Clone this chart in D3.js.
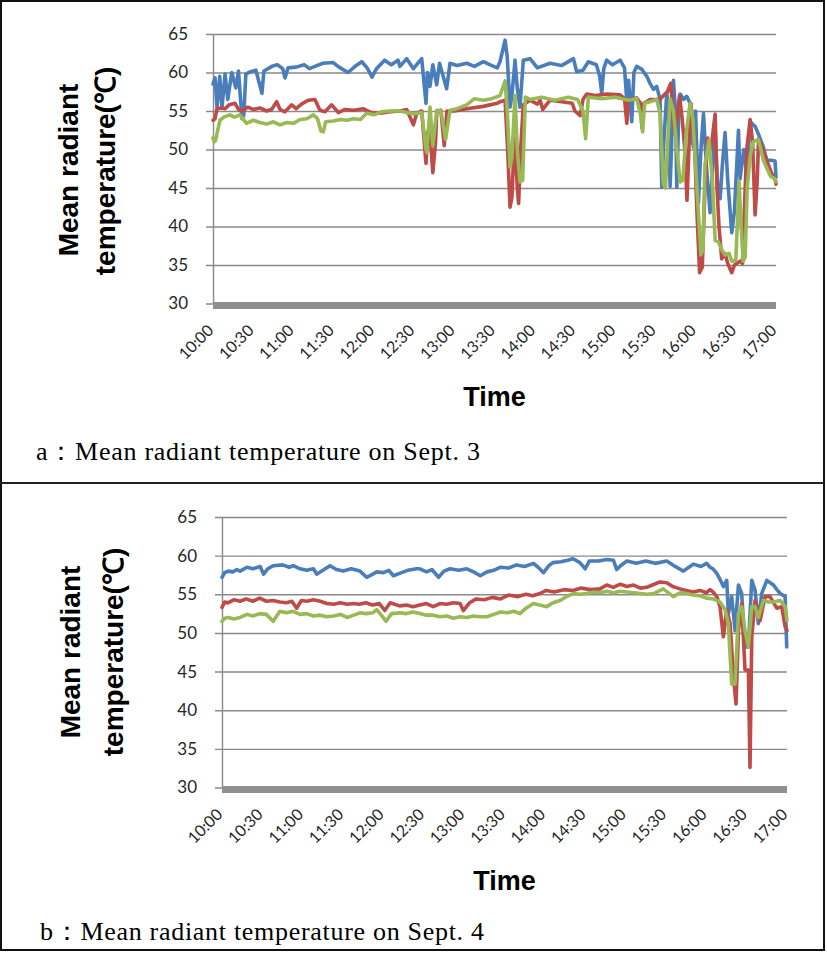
<!DOCTYPE html>
<html><head><meta charset="utf-8">
<script src="https://cdn.jsdelivr.net/npm/d3@7"></script>
<style>body{margin:0;background:#fff}svg{display:block}</style>
</head><body>
<svg id="c" width="827" height="953"></svg>
<script>
// ---------- data (minutes after 10:00, °C) ----------
const timeLabels = ["10:00","10:30","11:00","11:30","12:00","12:30","13:00","13:30","14:00","14:30","15:00","15:30","16:00","16:30","17:00"];
const timeTickMinutes = [0,30,60,90,120,150,180,210,240,270,300,330,360,390,420];
const yTicks = [30,35,40,45,50,55,60,65];
const seriesNames = ["blue","red","green"];
const seriesColors = ["#4A7EBB","#BE4B48","#98B954"];

const sep3Blue = [[0,58.5],[1.5,59.3],[3,55.5],[5,59.5],[6.7,55.4],[9,59.8],[11,56.5],[14,60],[17,58],[19,60.2],[21.6,54],[23,54.5],[24.5,59.8],[28,60.1],[32,60.3],[36.5,57.3],[38,60.2],[44,60.8],[48,61],[52,60.5],[53.7,59.3],[56,60.6],[62,60.7],[68,61],[72,60.5],[76,60.8],[82,61.2],[89.5,61.3],[94,60.7],[100.7,60],[106,60.8],[111,61.4],[115,60.6],[118.6,59.4],[122,60.5],[128,61.6],[133,61],[138,61.6],[139.5,60.8],[144.5,61.8],[149.5,60.5],[155.7,61.8],[158.9,56],[160,60],[161.9,58.2],[164,61],[166.9,58.4],[169,61.2],[174.3,57.9],[176.8,61.2],[182,60.9],[189.3,61.2],[195,60.8],[201.7,61.4],[208,60.9],[212,60.6],[214.1,61.4],[217.9,64.2],[219.5,62],[221.6,55.5],[223,57],[225.3,61.6],[227,58],[229,55.5],[231.5,61.6],[236.5,61.8],[242,60.6],[251.4,61.2],[260,60.9],[268.9,61.8],[271.3,60.1],[276,60.3],[280,61.4],[286,61],[288.5,59.5],[290,57.3],[291.5,60.5],[293.7,61.6],[298,61],[303.7,61.6],[307,60.6],[308.7,56.2],[310,59],[312.4,53.6],[314,60],[316.1,60.8],[320,60.4],[323.6,59.5],[326,58.6],[328.6,57.8],[331,58.2],[333.5,56.5],[334.8,45.1],[336,50],[338.5,57.3],[340,55],[341,45.2],[342,50],[343.5,59],[345,55],[346,45.1],[347.5,55],[348.5,57.2],[351,56.5],[353.4,56.9],[355.9,56],[357,52],[358.4,50.3],[360,55],[362.1,43],[364,50],[365.9,54.7],[368,48],[370.8,41.8],[372.5,47],[374.6,52.7],[376.5,45],[378.3,43.6],[380,48],[382,52.2],[384,46],[387,39.2],[389,42],[392,52.5],[393.2,46.2],[396,50],[398.2,47.1],[400.7,53.6],[404.4,53],[406.9,52],[410.6,50.3],[413.1,48.6],[416,48.6],[419.3,48.5],[420,46.4]];
const sep3Red = [[0,53.8],[1.5,54],[3,55.3],[6,55.4],[9,55.3],[12,55.8],[16.4,56],[19,55.2],[22,55],[26,55.5],[30,55.2],[35,55.4],[40,55],[43.7,55.2],[47.5,56.2],[50,55.2],[53.7,54.9],[58.7,55.8],[62,55.3],[66,55.9],[71,56.4],[76,56.5],[79.8,55.1],[83.5,54.9],[88.5,55.8],[93.5,54.8],[98.5,55.2],[105,55.1],[112,55.3],[118,54.8],[125,54.7],[132,54.9],[139.5,55],[144.5,55.2],[149.5,53.2],[152,54.7],[155.7,55],[158.9,48.2],[160,52],[161.5,53],[164,47],[166,51],[167,55],[170,55.1],[172.5,50.5],[174.5,55],[180,55],[189.3,55.3],[201.7,55.6],[212,56],[214.1,56.2],[217.9,56.4],[219.8,50],[221.6,42.5],[223,43.8],[224.5,50],[225.3,51.4],[227,45],[228,43],[229.5,50],[231.5,55.8],[236.5,56.4],[242,55.9],[244,56.4],[246,55.2],[251.4,56.4],[260,56.2],[268,56],[270,55],[274,54.4],[276,56.5],[278.8,57.2],[285,57],[293.7,57.2],[303.7,57.1],[307,56.6],[308.7,53.4],[310,56.5],[316,56.7],[319,56],[320,52.8],[321.5,56],[326,56.5],[333.5,56.5],[336,57],[339,57.5],[341.5,58.6],[343,55],[344.5,52],[346,54],[348,57],[350,54],[352,50],[353.6,43.4],[355,50],[356.5,56],[359,52],[361,42],[363,34],[365,34.7],[367,45],[369,51.5],[371.5,50],[374.6,54.6],[376,45],[377.5,40],[379.5,35.8],[382,36.5],[384,35.2],[387,34],[389,35],[391.5,35.3],[393.5,35.5],[395,35.2],[397,45],[398.2,50],[400.7,53.9],[402.5,51],[404.4,41.5],[406,46],[407,51.4],[410,50],[413.1,48.6],[416.5,47],[419.5,46],[420,45.5]];
const sep3Green = [[0,51.5],[1,51],[2,51.2],[3.5,52.5],[5.2,53.8],[8,54.2],[12.6,54.5],[16,54.2],[20,54.5],[25,53.4],[30,53.8],[35,53.5],[40,53.3],[45,53.6],[50,53.2],[55,53.5],[60,53.4],[65,53.9],[70,54],[74.8,54.5],[78,54],[80.5,52.4],[82.3,52.3],[84,53.6],[89.8,53.7],[95,53.9],[100,53.8],[105,54],[110,53.9],[114.6,54.7],[120,54.5],[126,54.9],[132,55],[139.5,55],[144.5,54.8],[149.5,54.6],[155.7,54.8],[158.9,50],[159.5,49.6],[161.9,55.5],[164,50.5],[166.9,55.1],[170,55],[173.5,51.3],[176.8,55.1],[182,55.3],[189.3,55.8],[195,56.6],[201.7,56.4],[208,56.6],[214.1,57],[217.9,58.9],[219.5,55],[221.6,47.7],[223,49],[225.3,57],[227,50],[229,45.8],[231,46],[233,56.8],[236.5,56.5],[245,56.8],[255,56.4],[265,56.8],[272,56.5],[276,55],[278,51.4],[280,56.8],[290,56.6],[300,56.8],[310,56.4],[316.1,56.6],[319,54.5],[320.5,52.3],[322,56],[326,56.2],[331,56.5],[333.5,54.7],[336,45.5],[337.5,45],[339,50],[341,56.6],[343.5,55],[346,50],[348.5,45.8],[350.5,46],[353,52],[355.9,56],[358,54],[361,45],[364,36.3],[365.5,37],[367,48],[370,51.2],[372.5,46],[374.6,38.2],[377,38],[379.5,37],[382,36.3],[385,36.5],[387,35.5],[390,35.6],[392.5,45.8],[394,40],[395.5,35.5],[397,36],[398.5,45],[400.7,49.1],[403,51],[406.9,51.3],[410.6,48.6],[413.1,47.6],[416,46.5],[419.3,46.2],[420,45.8]];

const sep4Blue = [[0,57.2],[2,57.8],[4.5,58],[8,57.9],[11,58.2],[13.5,58],[18.5,58.5],[23,58.3],[28.4,58.6],[30.9,57.6],[34,58.3],[38.3,58.7],[45,58.8],[50,58.5],[53,58.7],[58,58.3],[63,58.1],[68,58.3],[70.4,57.6],[75,58.1],[80.3,58.7],[85,58.2],[90.2,58],[96,58.3],[102.6,58],[107.5,57.2],[110,57.4],[115,57.9],[120,57.8],[124,58.1],[127.4,57.4],[132,57.7],[138,58.1],[144.7,58.3],[147,58.3],[152,57.9],[156,58.2],[161,57.2],[165,58],[169.5,58.3],[176,58.1],[182,58.3],[187,57.9],[192,57.4],[197,57.9],[202,58.1],[207,58.5],[213,58.4],[219,58.8],[225,58.6],[231.5,59],[235,58.5],[239,57.8],[243,58.7],[246,59.1],[252,59.2],[257,59.4],[261,59.6],[266,59.1],[270,58.3],[273,59.3],[280,59.3],[286,59.5],[291,59.4],[293.4,58.2],[297,58.8],[301,59.3],[308,59],[315,59.3],[322,59],[330.6,59.3],[336,58.7],[343,58],[347,58.5],[350.4,58.9],[356,58.6],[360.3,59],[362.8,58.5],[365,58.3],[367.8,57.7],[370,57],[372.7,56],[375.2,56.8],[376.4,52.5],[378.9,54.7],[381.4,50.3],[383.9,56.2],[386.3,55.1],[388.8,48.2],[391.3,48.2],[393.8,56.8],[396.3,55.5],[398.7,51.2],[401.2,55.1],[405,56.8],[407.5,56.5],[409.9,56.2],[412.5,55.6],[414.9,55.1],[418.6,54.7],[419.8,48.2]];
const sep4Red = [[0,53.3],[2,54],[4.5,53.9],[9,54.3],[13.5,54.1],[18,54.4],[23,54.1],[28,54.5],[33,54.1],[38,54.2],[43,54],[48,53.9],[52,54.1],[55.5,53.2],[59,54.2],[63,54.1],[68,54.3],[73,54.1],[78,53.8],[83,53.7],[88,53.9],[93,53.7],[98,53.8],[102,53.7],[107,53.9],[112,53.6],[117,53.8],[121,52.9],[125,53.9],[132,53.5],[137,53.6],[142,53.4],[147,53.6],[152,53.8],[157,53.4],[162,53.8],[167,53.7],[172,53.9],[177,53.8],[179.4,52.9],[184,53.9],[189,54.4],[195,54.3],[201,54.6],[207,54.4],[213,54.9],[220,54.7],[226,55],[231,54.8],[236.4,55.1],[241,55.5],[247,55.3],[254,55.6],[261,55.5],[267,55.8],[274,55.6],[281,55.7],[286,56.2],[291,55.9],[296,56.3],[301,56],[306,56.2],[311,55.8],[315.7,55.9],[320,56.2],[325.6,56.6],[330.6,56.5],[335,56],[340.5,55.7],[345,55.5],[350,55.3],[355.4,55.5],[360,55.2],[362.8,55.6],[365,55.3],[367.8,54.7],[370.2,53.4],[372.7,49.5],[375.2,53],[377.7,51.2],[380.2,44.3],[382.1,40.8],[383.9,50.3],[386.3,53.8],[388.8,45.2],[391.3,45.2],[392.5,32.6],[393.8,49.5],[396.3,54.2],[400,51.6],[403.7,54.7],[407.4,54.7],[412.4,53.2],[416.1,53.4],[418.6,50.8],[420,50.3]];
const sep4Green = [[0,51.5],[2,51.9],[4.5,52],[9,51.8],[13.5,52],[18.5,52.4],[23,52.2],[28,52.5],[33,52.4],[38,51.5],[43,52.8],[48,52.6],[53,52.8],[58,52.4],[63,52.5],[68,52.2],[73,52.3],[78,52.1],[83,52.2],[88,52.4],[93,52],[98,52.3],[102.6,52.6],[107,52.5],[112,52.6],[115,53],[118,52.4],[122,51.5],[126,52.5],[132,52.6],[137,52.5],[142,52.7],[147,52.5],[152,52.3],[157,52.3],[162,52.1],[167,52.2],[172,51.9],[177,52.1],[182,52],[187,52.2],[192,52.1],[197,52.1],[202,52.4],[207,52.7],[212,52.6],[217,52.8],[221.5,52.5],[226,53.2],[231.5,53.8],[236,53.6],[241.4,53.4],[246,53.9],[251.3,54.2],[256,54.7],[261,55.1],[266,55],[271,55.1],[276,55.3],[281,55.2],[286,55.4],[291,55.2],[296,55.4],[301,55.3],[306,55.2],[311,55.1],[316,55],[321,55.1],[328,55.7],[335.5,54.7],[340.5,55.2],[345.4,55.1],[350,54.9],[355.4,54.8],[360,54.5],[365.3,54.4],[370.2,54],[374,53],[376.4,51.2],[378.9,43.4],[381.4,43.4],[383.9,52.5],[386.3,53.4],[388.8,50.3],[391.3,48.2],[393.8,53.4],[396.3,53.4],[398.7,52],[402.5,54.2],[406,54],[409.9,54],[414.9,54.2],[418.6,53.4],[420,51.6]];

const captions = ["a\uFF1AMean radiant temperature on Sept. 3", "b\uFF1AMean radiant temperature on Sept. 4"];
const yTitleLines = ["Mean radiant", "temperature(\u2103)"];
const xTitle = "Time";

// ---------- layout ----------
const panels = [
  {series:[sep3Blue, sep3Red, sep3Green], caption:captions[0],
   x0:213, x1:776, yTop:34, yBot:303.5, t1:[78,170], t2:[115,171], timeY:406, capX:36, capY:460},
  {series:[sep4Blue, sep4Red, sep4Green], caption:captions[1],
   x0:222, x1:787, yTop:517, yBot:787.5, t1:[80,652], t2:[123,652], timeY:890, capX:40, capY:940}
];

const svg = d3.select("#c");
svg.append("rect").attr("width",827).attr("height",953).attr("fill","#fff");

panels.forEach(p => {
  const x = d3.scaleLinear().domain([0,420]).range([p.x0,p.x1]);
  const y = d3.scaleLinear().domain([30,65]).range([p.yBot,p.yTop]);
  const g = svg.append("g");

  // gridlines (with small outside ticks)
  const grid = g.append("g").attr("transform",`translate(${p.x0-7},0)`)
    .call(d3.axisRight(y).tickValues(yTicks).tickSize(p.x1-p.x0+7).tickFormat(""));
  grid.select(".domain").remove();
  grid.selectAll("line").attr("stroke","#8a8a8a").attr("stroke-width",1.4);

  // y labels
  const ya = g.append("g").attr("transform",`translate(${p.x0},0)`)
    .call(d3.axisLeft(y).tickValues(yTicks).tickSize(0).tickPadding(25));
  ya.select(".domain").attr("stroke","#8a8a8a").attr("stroke-width",1.4);
  ya.selectAll("text").attr("font-family","Lato, 'Open Sans', sans-serif").attr("font-size",17).attr("fill","#262626");

  // dense category tick band at 30
  g.append("rect").attr("x",p.x0).attr("y",y(30)-1.5).attr("width",p.x1-p.x0).attr("height",7)
    .attr("fill","#8f8f8f");

  // x labels
  const xa = g.append("g").attr("transform",`translate(0,${p.yBot})`)
    .call(d3.axisBottom(x).tickValues(timeTickMinutes).tickSize(0).tickFormat((d,i)=>timeLabels[i]));
  xa.select(".domain").remove();
  xa.selectAll("text").attr("font-family","Lato, 'Open Sans', sans-serif").attr("font-size",16).attr("fill","#262626")
    .attr("y",0).attr("dy",0).attr("text-anchor","end").attr("transform","translate(1,28) rotate(-45)");

  // series
  const line = d3.line().x(d=>x(d[0])).y(d=>y(d[1]));
  p.series.forEach((s,i) => {
    g.append("path").datum(s).attr("d",line).attr("fill","none")
      .attr("stroke",seriesColors[i]).attr("stroke-width",3.6)
      .attr("stroke-linejoin","round").attr("stroke-linecap","round");
  });

  // y title
  [p.t1,p.t2].forEach((t,i) => {
    g.append("text").attr("transform",`translate(${t[0]},${t[1]}) rotate(-90)`)
      .attr("text-anchor","middle").attr("font-family","'Liberation Sans', Arial, sans-serif")
      .attr("font-weight","bold").attr("font-size",28).attr("fill","#000").text(yTitleLines[i]);
  });

  // x title
  g.append("text").attr("x",(p.x0+p.x1)/2).attr("y",p.timeY).attr("text-anchor","middle")
    .attr("font-family","'Liberation Sans', Arial, sans-serif").attr("font-weight","bold")
    .attr("font-size",27).attr("fill","#000").text(xTitle);

  // caption
  g.append("text").attr("x",p.capX).attr("y",p.capY)
    .attr("font-family","'Liberation Serif', 'Times New Roman', serif").attr("font-size",26)
    .attr("fill","#000").attr("textLength",444).attr("lengthAdjust","spacing").text(p.caption);
});

// frame
svg.append("rect").attr("x",1).attr("y",1).attr("width",823).attr("height",949)
  .attr("fill","none").attr("stroke","#111").attr("stroke-width",2);
svg.append("line").attr("x1",0).attr("x2",824).attr("y1",483).attr("y2",483)
  .attr("stroke","#222").attr("stroke-width",2);
</script>
</body></html>
